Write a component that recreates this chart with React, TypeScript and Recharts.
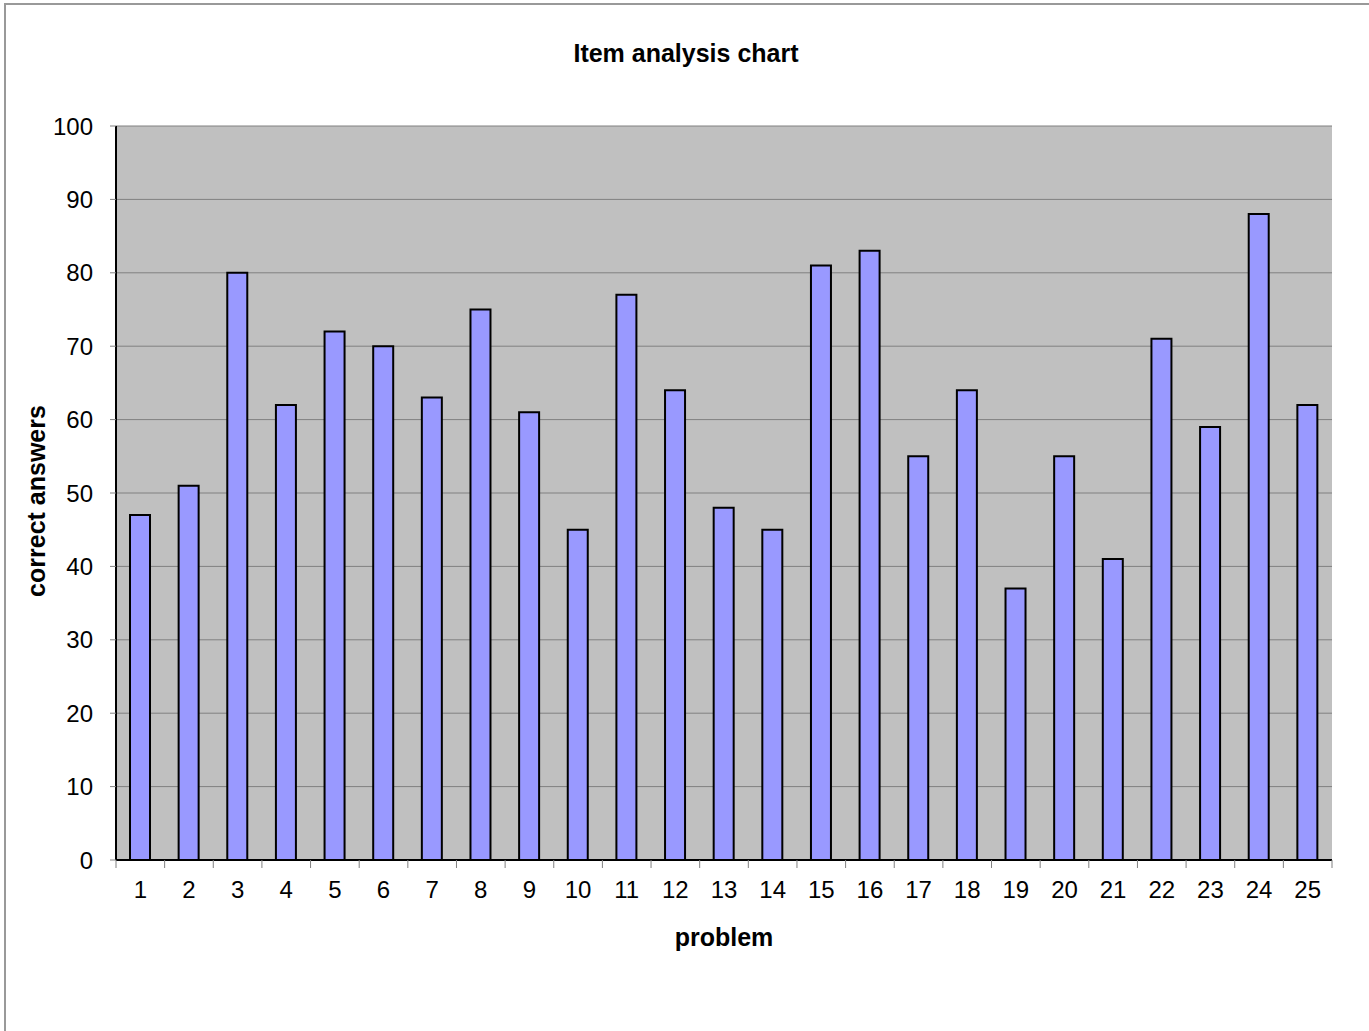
import { BarChart, Bar, XAxis, YAxis, CartesianGrid } from "recharts";

const problems = ["1", "2", "3", "4", "5", "6", "7", "8", "9", "10", "11", "12", "13", "14", "15", "16", "17", "18", "19", "20", "21", "22", "23", "24", "25"];
const correctAnswers = [47, 51, 80, 62, 72, 70, 63, 75, 61, 45, 77, 64, 48, 45, 81, 83, 55, 64, 37, 55, 41, 71, 59, 88, 62];
const yTicks = [0, 10, 20, 30, 40, 50, 60, 70, 80, 90, 100];

const data = problems.map((p, i) => ({ problem: p, value: correctAnswers[i] }));

const W = 1369;
const H = 1031;
const Y_AXIS_W = 60;
const X_AXIS_H = 60;
const margin = { top: 126, right: 37, bottom: 111, left: 56 };
const plotW = W - margin.left - margin.right - Y_AXIS_W;
const band = plotW / problems.length;
const font = "'Liberation Sans', Arial, sans-serif";

function XTick(props: any) {
  const { x, y, payload, index } = props;
  const half = band / 2;
  return (
    <g>
      <line x1={x - half} x2={x - half} y1={y} y2={y + 8} stroke="#808080" />
      {index === problems.length - 1 && (
        <line x1={x + half} x2={x + half} y1={y} y2={y + 8} stroke="#808080" />
      )}
      <text x={x} y={y + 38} textAnchor="middle" fontSize={24} fill="#000" fontFamily={font}>
        {payload.value}
      </text>
    </g>
  );
}

export default function App() {
  return (
    <div style={{ position: "absolute", left: 0, top: 0, width: W, height: H, overflow: "hidden", background: "#fff", fontFamily: font }}>
      <div style={{ position: "absolute", left: 4, top: 3, width: W + 50, height: H + 50, border: "2px solid #999" }} />
      <div style={{ position: "absolute", left: 0, width: 1372, top: 38, textAlign: "center", fontSize: 25, fontWeight: "bold", lineHeight: "30px" }}>
        Item analysis chart
      </div>
      <div style={{ position: "absolute", left: 116, width: 1216, top: 922, textAlign: "center", fontSize: 25, fontWeight: "bold", lineHeight: "30px" }}>
        problem
      </div>
      <div style={{ position: "absolute", left: 36, top: 501, width: 0, height: 0 }}>
        <div style={{ position: "absolute", left: -150, top: -15, width: 300, textAlign: "center", transform: "rotate(-90deg)", fontSize: 25, fontWeight: "bold", lineHeight: "30px", whiteSpace: "nowrap" }}>
          correct answers
        </div>
      </div>
      <div style={{ position: "absolute", left: 0, top: 0 }}>
        <BarChart width={W} height={H} data={data} margin={margin} barSize={20}>
          <CartesianGrid vertical={false} stroke="#808080" fill="#C0C0C0" fillOpacity={1} />
          <XAxis
            dataKey="problem"
            height={X_AXIS_H}
            tickLine={false}
            tickSize={0}
            tickMargin={0}
            axisLine={{ stroke: "#000", strokeWidth: 2 }}
            tick={<XTick />}
            interval={0}
          />
          <YAxis
            width={Y_AXIS_W}
            domain={[0, 100]}
            ticks={yTicks}
            interval={0}
            tickSize={6}
            tickMargin={17}
            tickLine={{ stroke: "#808080" }}
            axisLine={{ stroke: "#000", strokeWidth: 2 }}
            tick={{ fontSize: 24, fill: "#000", fontFamily: font }}
          />
          <YAxis
            yAxisId="r"
            orientation="right"
            width={0}
            domain={[0, 100]}
            tick={false}
            tickLine={false}
            axisLine={{ stroke: "#808080", strokeWidth: 2 }}
          />
          <Bar dataKey="value" fill="#9999FF" stroke="#000" strokeWidth={2} isAnimationActive={false} />
        </BarChart>
      </div>
    </div>
  );
}
